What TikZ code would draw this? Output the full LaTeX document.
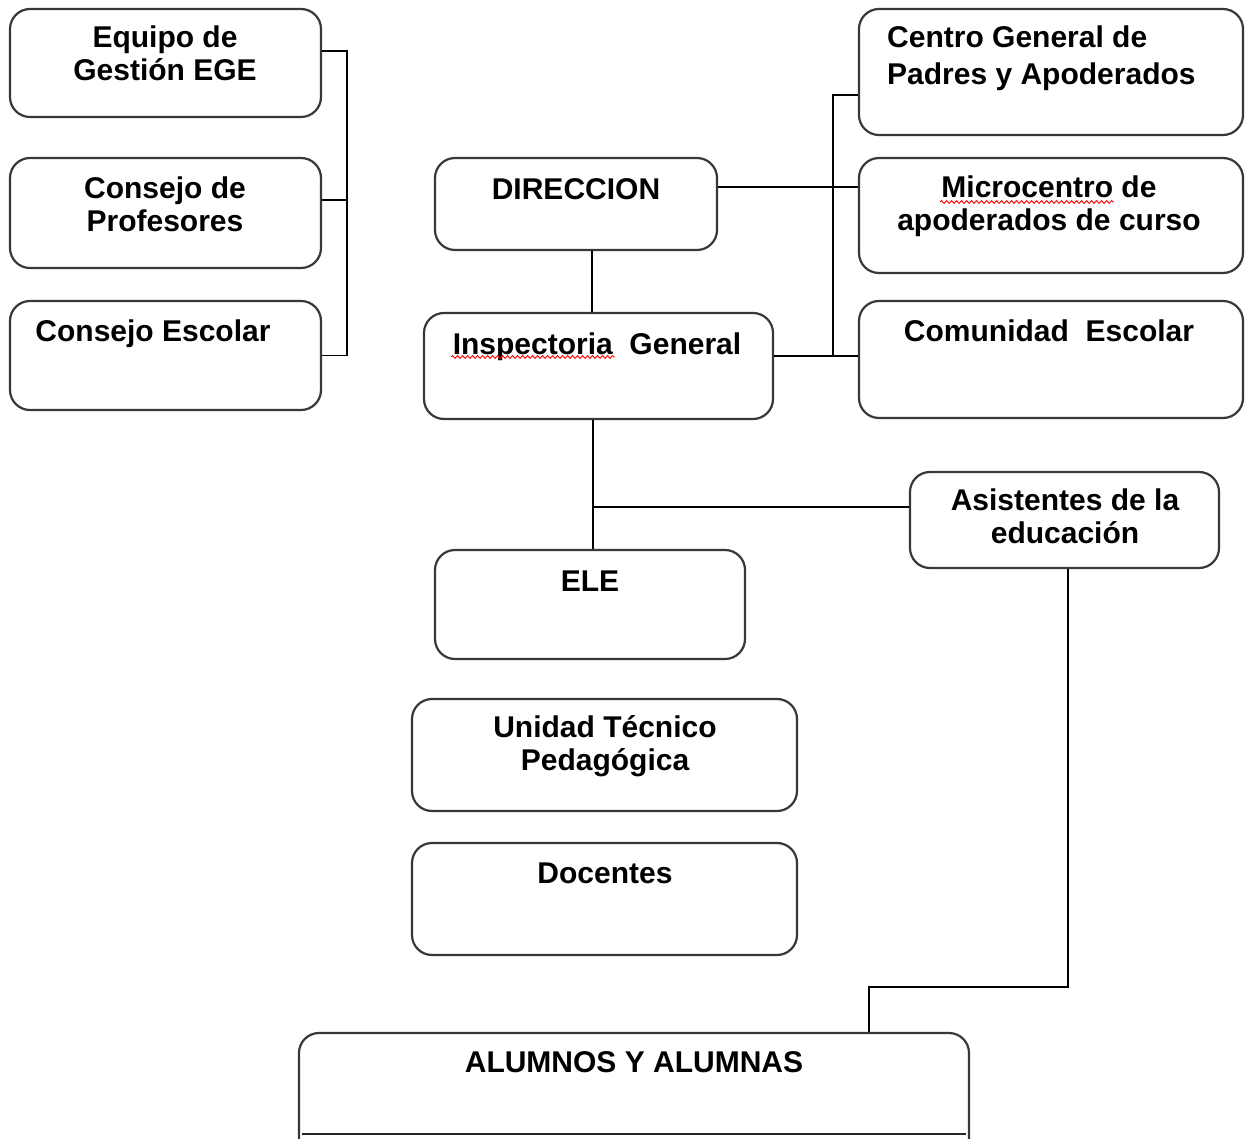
\documentclass[tikz,border=0pt]{standalone}
\usepackage{fontspec}
\setmainfont{Liberation Sans}
\usetikzlibrary{decorations.pathmorphing}
\begin{document}
\begin{tikzpicture}[x=1pt,y=-1pt,
  box/.style={draw=black!78, line width=2.2pt, rounded corners=20pt, inner sep=0pt, fill=white},
  txt/.style={inner sep=0pt, font=\fontsize{30}{33}\selectfont\bfseries, text=black, align=center},
  conn/.style={draw=black, line width=1.6pt},
  squig/.style={draw=red, line width=0.9pt, decorate, decoration={snake, amplitude=1.4pt, segment length=5pt}}]
\useasboundingbox (0,0) rectangle (1251,1139);
\clip (0,0) rectangle (1251,1139);
\fill[white] (0,0) rectangle (1251,1139);

% boxes
\node[box, minimum width=311pt, minimum height=108pt] (ege) at (165.5,63) {};
\node[box, minimum width=311pt, minimum height=110pt] (prof) at (165.5,213) {};
\node[box, minimum width=311pt, minimum height=109pt] (cesc) at (165.5,355.5) {};
\node[box, minimum width=282pt, minimum height=92pt] (dir) at (576,204) {};
\node[box, minimum width=349pt, minimum height=106pt] (insp) at (598.5,366) {};
\node[box, minimum width=310pt, minimum height=109pt] (ele) at (590,604.5) {};
\node[box, minimum width=385pt, minimum height=112pt] (utp) at (604.5,755) {};
\node[box, minimum width=385pt, minimum height=112pt] (doc) at (604.5,899) {};
\node[box, minimum width=670pt, minimum height=127pt] (alu) at (634,1096.5) {};
\node[box, minimum width=384pt, minimum height=126pt] (cgpa) at (1051,72) {};
\node[box, minimum width=384pt, minimum height=115pt] (micro) at (1051,215.5) {};
\node[box, minimum width=384pt, minimum height=117pt] (com) at (1051,359.5) {};
\node[box, minimum width=309pt, minimum height=96pt] (asis) at (1064.5,520) {};
\draw[black!85, line width=2.2pt] ([xshift=4pt]alu.west |- 0,1134) coordinate (alub1) -- ([xshift=-4pt]alu.east |- 0,1134) coordinate (alub2);

% texts
\node[txt] (ege-t) at (165,53.5) {Equipo de\\Gestión EGE};
\node[txt] (prof-t) at (165,204) {Consejo de\\Profesores};
\node[txt] (cesc-t) at (153,334) {Consejo Escolar};
\node[txt] (dir-t) at (576,189) {DIRECCION};
\node[txt] (insp-t) at (597,347) {Inspectoria\ \ General};
\node[txt] (ele-t) at (590,581) {ELE};
\node[txt] (utp-t) at (605,746.5) {Unidad Técnico\\Pedagógica};
\node[txt] (doc-t) at (605,873) {Docentes};
\node[txt] (alu-t) at (634,1062) {ALUMNOS Y ALUMNAS};
\node[txt, align=left, anchor=west, font=\fontsize{30}{37}\selectfont\bfseries] (cgpa-t) at (887,58) {Centro General de\\Padres y Apoderados};
\node[txt] (micro-t) at (1049,206) {Microcentro de\\apoderados de curso};
\node[txt] (com-t) at (1049,331) {Comunidad\ \ Escolar};
\node[txt] (asis-t) at (1065,516.5) {Asistentes de la\\educación};

% spell-check underlines
\draw[squig] (451,357) -- (615,357);
\draw[squig] (940,202) -- (1114,202);

% helper coordinates
\coordinate (lbus) at (347,0);
\coordinate (rbus) at (833,0);
\coordinate (x592) at (592,0);
\coordinate (x593) at (593,0);
\coordinate (a1) at (1068,987);
\coordinate (a2) at (869,987);

% left bracket
\draw[conn] ([yshift=12pt]ege.east) -- ([yshift=12pt]ege.east -| lbus) -- (cesc.east -| lbus) -- (cesc.east);
\draw[conn] ([yshift=13pt]prof.east) -- ([yshift=13pt]prof.east -| lbus);

% centre column
\draw[conn] (dir.south -| x592) -- (insp.north -| x592);
\draw[conn] (insp.south -| x593) -- (ele.north -| x593);
\draw[conn] ([yshift=13pt]asis.west) -- ([yshift=13pt]asis.west -| x593);

% right side
\draw[conn] ([yshift=17pt]dir.east) -- ([yshift=17pt]dir.east -| micro.west);
\draw[conn] ([yshift=-23pt]cgpa.west) -- ([yshift=-23pt]cgpa.west -| rbus) -- ([yshift=10pt]insp.east -| rbus);
\draw[conn] ([yshift=10pt]insp.east) -- ([yshift=10pt]insp.east -| com.west);

% asistentes to alumnos
\draw[conn] (asis.south -| a1) -- (a1) -- (a2) -- (alu.north -| a2);
\end{tikzpicture}
\end{document}
